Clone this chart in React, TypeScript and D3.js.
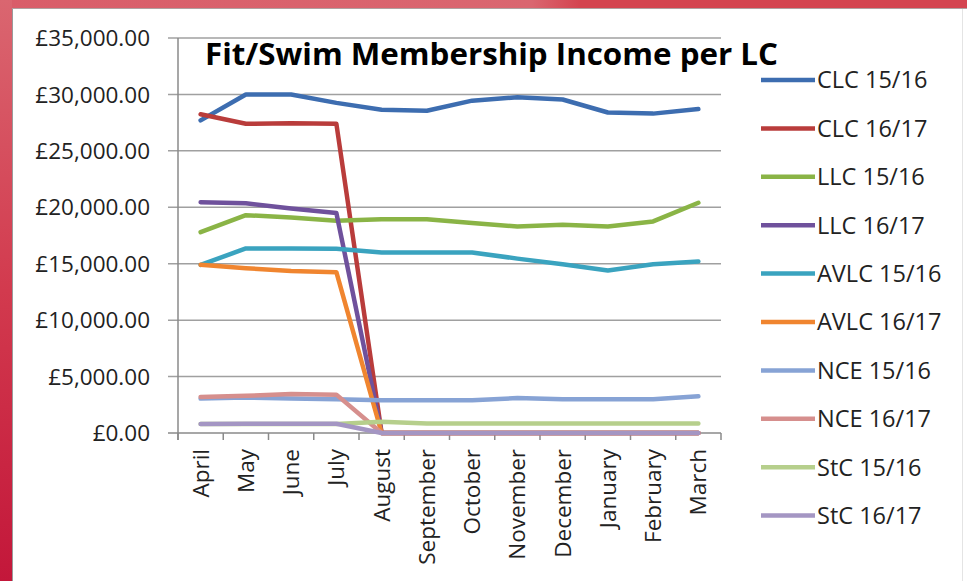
import React, { useEffect, useRef } from "react";
import * as d3 from "d3";

// months on the category axis
const months = ["April", "May", "June", "July", "August", "September", "October",
  "November", "December", "January", "February", "March"];

const yTicks = [0, 5000, 10000, 15000, 20000, 25000, 30000, 35000];

// series values (£ per month)
const clc1516 = [27700, 30000, 30000, 29250, 28650, 28550, 29450, 29750, 29550, 28400, 28300, 28700];
const clc1617 = [28250, 27400, 27450, 27400, 0, 0, 0, 0, 0, 0, 0, 0];
const llc1516 = [17800, 19300, 19100, 18800, 18950, 18950, 18600, 18300, 18450, 18300, 18750, 20400];
const llc1617 = [20450, 20350, 19900, 19500, 0, 0, 0, 0, 0, 0, 0, 0];
const avlc1516 = [14900, 16350, 16350, 16330, 16000, 16000, 16000, 15450, 14950, 14400, 14950, 15200];
const avlc1617 = [14900, 14600, 14350, 14250, 0, 0, 0, 0, 0, 0, 0, 0];
const nce1516 = [3050, 3150, 3050, 3000, 2900, 2900, 2900, 3100, 3000, 3000, 3000, 3250];
const nce1617 = [3200, 3300, 3450, 3400, 0, 0, 0, 0, 0, 0, 0, 0];
const stc1516 = [800, 800, 800, 800, 1000, 850, 850, 850, 850, 850, 850, 850];
const stc1617 = [800, 820, 820, 820, 0, 0, 0, 0, 0, 0, 0, 0];

const seriesNames = ["CLC 15/16", "CLC 16/17", "LLC 15/16", "LLC 16/17", "AVLC 15/16",
  "AVLC 16/17", "NCE 15/16", "NCE 16/17", "StC 15/16", "StC 16/17"];
const seriesValues = [clc1516, clc1617, llc1516, llc1617, avlc1516,
  avlc1617, nce1516, nce1617, stc1516, stc1617];
const seriesColors = ["#3D6DB0", "#B93C3B", "#8AB446", "#6F519C", "#3AA3BF",
  "#F0852F", "#87A3D5", "#D68F8D", "#B6CF8C", "#A496C3"];

const FONT = "'Open Sans', 'Liberation Sans', sans-serif";

export default function App() {
  const ref = useRef<SVGSVGElement>(null);

  useEffect(() => {
    const svg = d3.select(ref.current);
    svg.selectAll("*").remove();

    const W = 967, H = 581;
    const plot = { left: 178, right: 721, top: 38, bottom: 433 };

    // frame: red slide border
    const defs = svg.append("defs");
    const gl = defs.append("linearGradient").attr("id", "leftband")
      .attr("x1", 0).attr("y1", 0).attr("x2", 0).attr("y2", 1);
    gl.append("stop").attr("offset", "0").attr("stop-color", "#DA6670");
    gl.append("stop").attr("offset", "0.5").attr("stop-color", "#D23A4E");
    gl.append("stop").attr("offset", "1").attr("stop-color", "#C3173A");
    const gt = defs.append("linearGradient").attr("id", "topband")
      .attr("x1", 0).attr("y1", 0).attr("x2", 1).attr("y2", 0);
    gt.append("stop").attr("offset", "0").attr("stop-color", "#D95D69");
    gt.append("stop").attr("offset", "0.55").attr("stop-color", "#DA6670");
    gt.append("stop").attr("offset", "0.6").attr("stop-color", "#D4444F");
    gt.append("stop").attr("offset", "1").attr("stop-color", "#D44450");

    svg.append("rect").attr("width", W).attr("height", H).attr("fill", "#FFFFFF");
    svg.append("rect").attr("x", 0).attr("y", 0).attr("width", W).attr("height", 8)
      .attr("fill", "url(#topband)");
    svg.append("rect").attr("x", 0).attr("y", 0).attr("width", 12).attr("height", H)
      .attr("fill", "url(#leftband)");
    svg.append("line").attr("x1", 12.5).attr("x2", 12.5).attr("y1", 8).attr("y2", H)
      .attr("stroke", "#9A9A9A").attr("stroke-width", 1);
    svg.append("line").attr("x1", 12).attr("x2", W).attr("y1", 8.5).attr("y2", 8.5)
      .attr("stroke", "#B0A0A0").attr("stroke-width", 1);
    svg.append("line").attr("x1", 962.5).attr("x2", 962.5).attr("y1", 9).attr("y2", H)
      .attr("stroke", "#E4E4E4").attr("stroke-width", 1);

    const x = d3.scaleBand<string>().domain(months).range([plot.left, plot.right]);
    const y = d3.scaleLinear().domain([0, 35000]).range([plot.bottom, plot.top]);

    // gridlines + y tick labels
    const fmt = (v: number) => "£" + d3.format(",.2f")(v);
    const yg = svg.append("g");
    yTicks.forEach(t => {
      yg.append("line").attr("x1", plot.left - 10).attr("x2", plot.right)
        .attr("y1", y(t)).attr("y2", y(t))
        .attr("stroke", t === 0 ? "#8A8A8A" : "#A0A0A0").attr("stroke-width", 1.5);
      yg.append("text").attr("x", 150).attr("y", y(t)).attr("dy", "0.36em")
        .attr("text-anchor", "end").attr("font-family", FONT).attr("font-size", 22.5)
        .attr("fill", "#222").text(fmt(t));
    });

    // axes
    svg.append("line").attr("x1", plot.left).attr("x2", plot.left)
      .attr("y1", plot.top).attr("y2", plot.bottom + 7)
      .attr("stroke", "#8A8A8A").attr("stroke-width", 1.5);
    const bounds = months.map(m => x(m) as number).concat([plot.right]);
    bounds.forEach(b => {
      svg.append("line").attr("x1", b).attr("x2", b)
        .attr("y1", plot.bottom).attr("y2", plot.bottom + 7)
        .attr("stroke", "#8A8A8A").attr("stroke-width", 1.5);
    });
    months.forEach(m => {
      const cx = (x(m) as number) + x.bandwidth() / 2;
      svg.append("text")
        .attr("transform", `translate(${cx},449) rotate(-90)`)
        .attr("dy", "0.36em").attr("text-anchor", "end")
        .attr("font-family", FONT).attr("font-size", 22.5).attr("fill", "#222")
        .text(m);
    });

    // lines
    const line = d3.line<number>()
      .x((_, i) => (x(months[i]) as number) + x.bandwidth() / 2)
      .y(d => y(d));
    seriesValues.forEach((vals, i) => {
      svg.append("path").datum(vals).attr("d", line)
        .attr("fill", "none").attr("stroke", seriesColors[i])
        .attr("stroke-width", 4.5).attr("stroke-linejoin", "round")
        .attr("stroke-linecap", "round");
    });

    // title
    svg.append("text").attr("x", 205).attr("y", 65)
      .attr("font-family", FONT).attr("font-weight", "bold").attr("font-size", 30)
      .attr("fill", "#000").attr("textLength", 573).attr("lengthAdjust", "spacingAndGlyphs")
      .text("Fit/Swim Membership Income per LC");

    // legend
    const lg = svg.append("g");
    seriesNames.forEach((name, i) => {
      const ly = 80 + i * 48.4;
      lg.append("line").attr("x1", 761).attr("x2", 815).attr("y1", ly).attr("y2", ly)
        .attr("stroke", seriesColors[i]).attr("stroke-width", 4.5);
      lg.append("text").attr("x", 817).attr("y", ly).attr("dy", "0.36em")
        .attr("font-family", FONT).attr("font-size", 23.5).attr("fill", "#222")
        .text(name);
    });
  }, []);

  return (
    <svg ref={ref} width={967} height={581}
      style={{ position: "absolute", left: 0, top: 0, display: "block" }} />
  );
}
